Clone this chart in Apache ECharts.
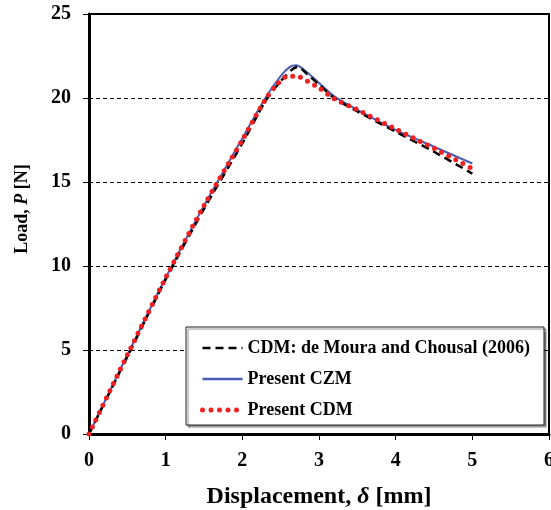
<!DOCTYPE html>
<html><head><meta charset="utf-8">
<script src="https://cdn.jsdelivr.net/npm/echarts@6/dist/echarts.min.js"></script>
<style>html,body{margin:0;padding:0;background:#fff}#c{width:551px;height:510px}</style>
</head><body><div id="c"></div>
<script>
const seriesNames = ['CDM: de Moura and Chousal (2006)', 'Present CZM', 'Present CDM'];
const refCDM = [[0,0],[0.5,4.6],[1,9.2],[1.5,13.4],[2.0,17.3],[2.3,19.8],[2.5,21.0],[2.65,21.7],[2.72,21.85],[2.85,21.4],[3.0,20.8],[3.2,20.0],[3.5,19.2],[4.0,18.0],[4.5,16.8],[5.0,15.5]];
const presentCZM = [[0,0],[0.5,4.7],[1.0,9.3],[1.5,13.6],[2.0,17.6],[2.3,20.0],[2.5,21.3],[2.62,21.85],[2.7,21.95],[2.8,21.7],[3.0,20.9],[3.2,20.1],[3.5,19.3],[4.0,18.1],[4.5,17.1],[5.0,16.1]];
const presentCDM = [[0,0],[0.5,4.7],[1,9.3],[1.5,13.6],[2.0,17.5],[2.3,19.9],[2.45,20.8],[2.6,21.3],[2.7,21.3],[2.85,21.0],[3.0,20.6],[3.2,19.95],[3.5,19.3],[4.0,18.15],[4.5,17.0],[5.0,15.8]];
const xTicks = [0,1,2,3,4,5,6];
const yTicks = [0,5,10,15,20,25];

const F = "'Liberation Serif', 'Times New Roman', serif";
const chart = echarts.init(document.getElementById('c'), null, {renderer:'canvas'});
chart.setOption({
  animation:false,
  backgroundColor:'#fff',
  grid:{left:89, right:2, top:14, bottom:76, show:true, borderColor:'#000', borderWidth:2,
    outerBoundsMode:'none', containLabel:false},
  legend:{
    orient:'vertical', left:186, top:327,
    padding:[12,14,6,14], itemGap:13, itemWidth:40, itemHeight:14,
    backgroundColor:'#fff', borderColor:'#222', borderWidth:1,
    shadowColor:'rgba(0,0,0,0.45)', shadowOffsetX:2, shadowOffsetY:2, shadowBlur:1,
    itemStyle:{opacity:0},
    textStyle:{fontFamily:F, fontWeight:'bold', fontSize:18, color:'#000'},
    data: [
      {name:seriesNames[0], lineStyle:{color:'#000', width:2.5, type:[8,5]}},
      {name:seriesNames[1], lineStyle:{color:'#4a5cb4', width:2.5}},
      {name:seriesNames[2], lineStyle:{color:'#f02020', width:5, type:[0,8.5], cap:'round'}}
    ]
  },
  xAxis:{
    type:'value', min:0, max:6, interval:1,
    name:'Displacement, {i|δ} [mm]', nameLocation:'middle', nameGap:51,
    nameTextStyle:{fontFamily:F, fontWeight:'bold', fontSize:24, color:'#000',
      rich:{i:{fontFamily:F, fontWeight:'bold', fontStyle:'italic', fontSize:24, color:'#000'}}},
    axisLine:{lineStyle:{color:'#000', width:3}},
    axisTick:{show:true, length:6, lineStyle:{color:'#000', width:1}},
    axisLabel:{fontFamily:F, fontWeight:'bold', fontSize:20, color:'#000', margin:17,
      formatter:v=> xTicks.includes(v) ? String(v) : ''},
    splitLine:{show:false}
  },
  yAxis:{
    type:'value', min:0, max:25, interval:5,
    name:'Load, {i|P} [N]', nameLocation:'middle', nameGap:58,
    nameTextStyle:{fontFamily:F, fontWeight:'bold', fontSize:18, color:'#000', padding:[0,0,0,30],
      rich:{i:{fontFamily:F, fontWeight:'bold', fontStyle:'italic', fontSize:18, color:'#000'}}},
    axisLine:{show:true, lineStyle:{color:'#000', width:3}},
    axisTick:{show:true, length:6, lineStyle:{color:'#000', width:1}},
    axisLabel:{fontFamily:F, fontWeight:'bold', fontSize:20, color:'#000', margin:18,
      formatter:v=> yTicks.includes(v) ? String(v) : ''},
    splitLine:{show:true, lineStyle:{color:'#000', width:1, type:[4,3]}}
  },
  series:[
    {name:seriesNames[0], type:'line', data:refCDM, symbol:'none', smooth:0.3, z:3,
      lineStyle:{color:'#000', width:2.5, type:[8,5]}, itemStyle:{color:'#000'}},
    {name:seriesNames[1], type:'line', data:presentCZM, symbol:'none', smooth:0.3, z:2,
      lineStyle:{color:'#4a5cb4', width:2}, itemStyle:{color:'#4a5cb4'}},
    {name:seriesNames[2], type:'line', data:presentCDM, symbol:'none', smooth:0.3, z:4,
      lineStyle:{color:'#f02020', width:5, type:[0,8], cap:'round'}, itemStyle:{color:'#f02020'}}
  ]
});
</script></body></html>
